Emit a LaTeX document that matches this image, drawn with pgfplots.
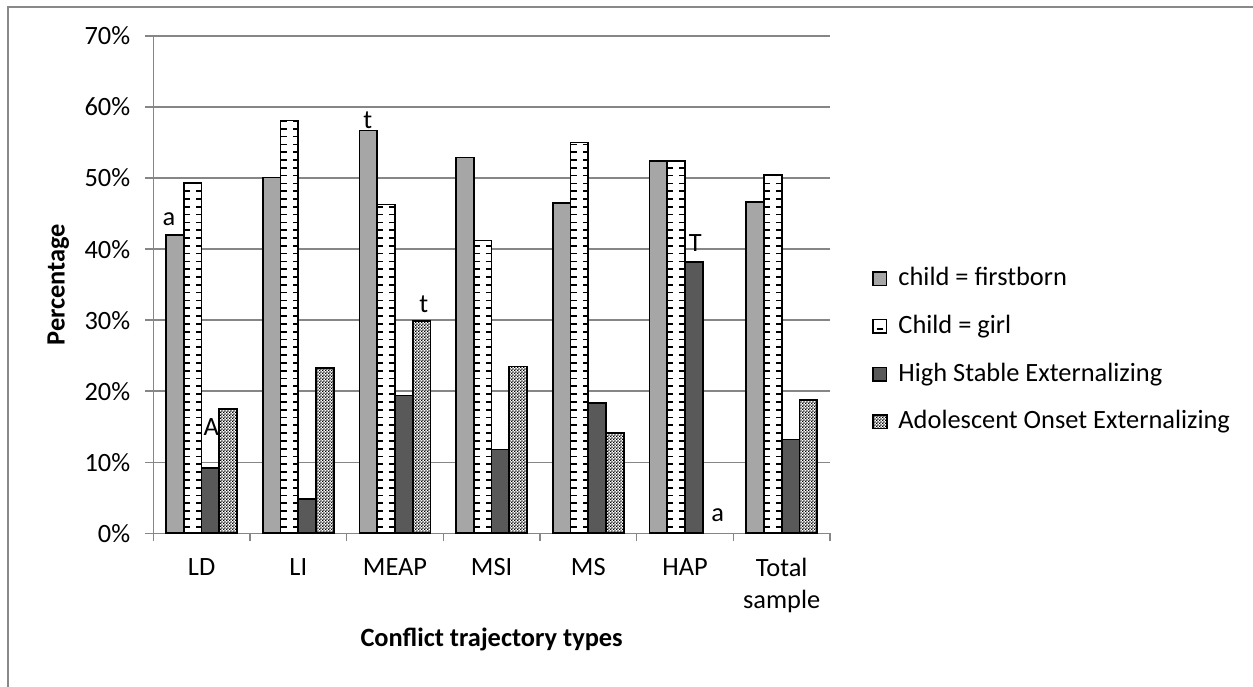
\documentclass[border=0pt]{standalone}
\usepackage{pgfplots}
\pgfplotsset{compat=1.18}
\usepackage{fontspec}
\setmainfont{Carlito}
\usetikzlibrary{patterns}
\definecolor{fbgray}{RGB}{166,166,166}
\definecolor{hsegray}{RGB}{89,89,89}
\definecolor{gridgray}{RGB}{134,134,134}
\definecolor{framegray}{RGB}{137,137,137}
\pgfdeclarepatternformonly{checker}{\pgfpointorigin}{\pgfqpoint{1.6pt}{1.6pt}}{\pgfqpoint{1.6pt}{1.6pt}}{%
  \pgfpathrectangle{\pgfpointorigin}{\pgfqpoint{0.8pt}{0.8pt}}%
  \pgfpathrectangle{\pgfqpoint{0.8pt}{0.8pt}}{\pgfqpoint{0.8pt}{0.8pt}}%
  \pgfusepath{fill}}
\newcommand{\fs}{\fontsize{13.2}{16}\selectfont}
\pgfplotstableread{
x   fb    girl  hse   aoe
0   42.0  49.3  9.2   17.5
1   50.1  58.1  4.8   23.3
2   56.7  46.3  19.4  29.9
3   52.9  41.2  11.8  23.5
4   46.5  55.0  18.3  14.1
5   52.4  52.4  38.2  0
6   46.6  50.4  13.2  18.8
}\data
\usepackage{pgfplotstable}
\begin{document}
\begin{tikzpicture}
\draw[framegray, line width=0.6pt] (4pt,-20pt) rectangle (700pt,339.5pt);
\begin{axis}[
  at={(76.65pt,76.35pt)}, anchor=south west,
  scale only axis, width=338.35pt, height=248.65pt,
  ybar=0pt, bar width=8.85pt,
  xmin=-0.5, xmax=6.5, ymin=0, ymax=70,
  axis x line*=bottom, axis y line*=left,
  axis line style={gridgray, line width=0.75pt},
  ymajorgrids, grid style={gridgray, line width=0.75pt},
  ytick={0,10,...,70},
  yticklabels={0\%,10\%,20\%,30\%,40\%,50\%,60\%,70\%},
  xtick={-0.5,0.5,...,6.5}, xticklabels={},
  extra x ticks={0,1,2,3,4,5,6},
  extra x tick labels={LD,LI,MEAP,MSI,MS,HAP,{Total\\sample}},
  extra x tick style={tick style={draw=none}},
  tick align=outside, major tick length=4pt,
  tick style={gridgray, line width=0.75pt},
  ticklabel style={font=\fs},
  xticklabel style={align=center, anchor=north, yshift=-5pt},
  yticklabel style={anchor=east, xshift=-4pt},
  xlabel={Conflict trajectory types},
  ylabel={Percentage},
  label style={font=\fs\bfseries},
  xlabel style={at={(axis description cs:0.5,-0.2144)}, anchor=center},
  ylabel style={at={(axis description cs:-0.1404,0.5)}, anchor=center},
  legend style={draw=none, fill=none, at={(axis description cs:1.062,0.368)}, anchor=west,
    inner sep=0pt, row sep=11.85pt, column sep=5.5pt, font=\fs,
    nodes={inner sep=0pt, text height=9.5pt, text depth=2.5pt}},
  legend cell align=left,
  legend image code/.code={\draw[#1, line width=0.75pt] (0pt,-3.4pt) rectangle (6.8pt,3.4pt);},
  every axis plot/.append style={draw=black, line width=0.85pt},
]
\addplot[fill=fbgray] table[x=x, y=fb] {\data};
\addplot[fill=white, legend image code/.code={\draw[fill=white, draw=black, line width=0.75pt] (0pt,-3.4pt) rectangle (6.8pt,3.4pt); \draw[black, line width=0.85pt] (1.7pt,-1.3pt) -- (5.1pt,-1.3pt);}] table[x=x, y=girl] {\data};
\addplot[fill=hsegray] table[x=x, y=hse] {\data};
\addplot[preaction={fill=white}, pattern=checker] coordinates {(0,17.5) (1,23.3) (2,29.9) (3,23.5) (4,14.1) (6,18.8)};
\legend{child = firstborn, Child = girl, High Stable Externalizing, Adolescent Onset Externalizing}
% horizontal dashes of the "Child = girl" bars, drawn as dashed thick combs
\addplot[ycomb, forget plot, mark=none, black, line width=2.8pt, dash pattern=on 0.85pt off 3.05pt, dash phase=1pt]
  table[x expr=\thisrow{x}-0.150, y=girl] {\data};
\addplot[ycomb, forget plot, mark=none, black, line width=2.6pt, dash pattern=on 0.85pt off 3.05pt, dash phase=1pt]
  table[x expr=\thisrow{x}-0.0315, y=girl] {\data};
\node[font=\fs, inner sep=0pt, anchor=center] at (axis cs:-0.338,44.2) {a};
\node[font=\fs, inner sep=0pt, anchor=center] at (axis cs:0.10,14.9) {A};
\node[font=\fs, inner sep=0pt, anchor=center] at (axis cs:1.72,58.2) {t};
\node[font=\fs, inner sep=0pt, anchor=center] at (axis cs:2.299,32.3) {t};
\node[font=\fs, inner sep=0pt, anchor=center] at (axis cs:5.107,40.8) {T};
\node[font=\fs, inner sep=0pt, anchor=center] at (axis cs:5.339,2.5) {a};
\end{axis}
\pgfresetboundingbox
\useasboundingbox (0,0) rectangle (626.5pt,343pt);
\end{tikzpicture}
\end{document}
